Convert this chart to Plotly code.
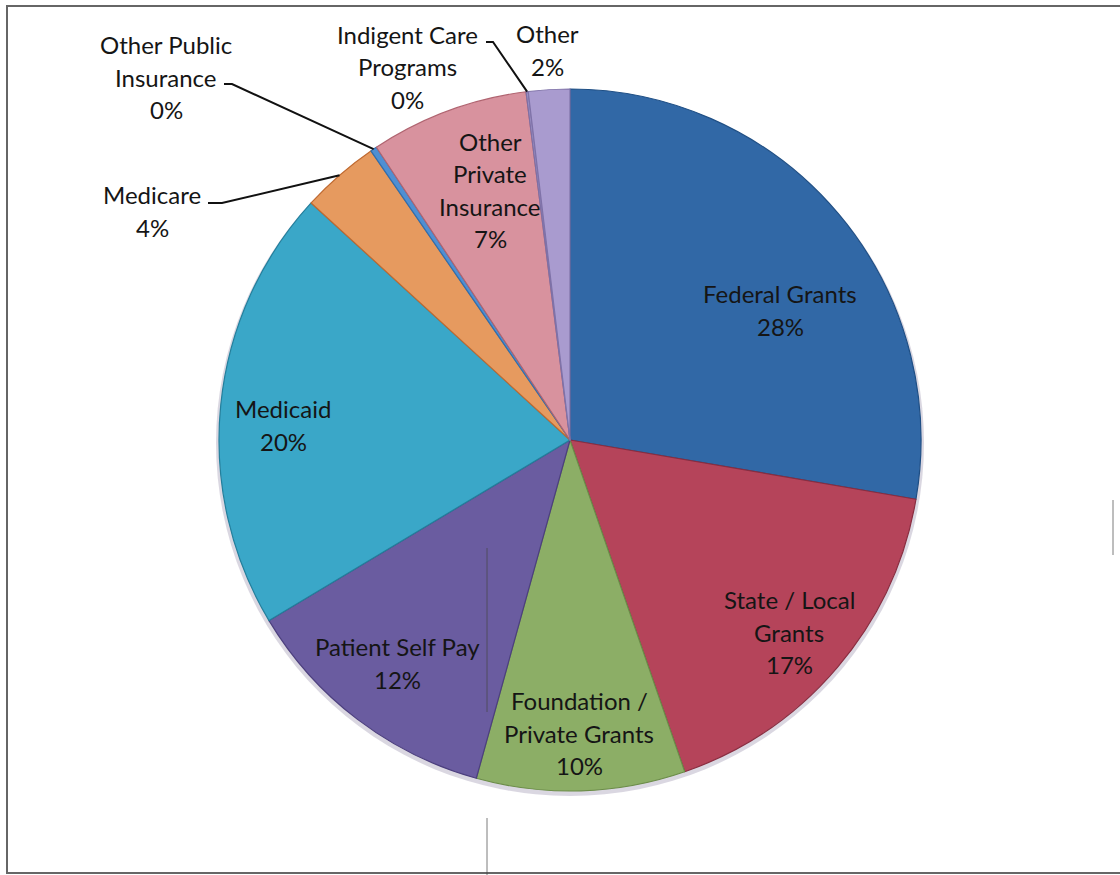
import math
import plotly.graph_objects as go

# Funding sources and their shares of total revenue (%)
categories = [
    "Federal Grants", "State / Local Grants", "Foundation / Private Grants",
    "Patient Self Pay", "Medicaid", "Medicare", "Other Public Insurance",
    "Other Private Insurance", "Indigent Care Programs", "Other",
]
shares = [27.7, 17.0, 9.6, 12.1, 20.4, 3.6, 0.3, 7.3, 0.1, 1.9]

# How each category name is broken over lines in its data label
label_lines = [
    ["Federal Grants"], ["State / Local", "Grants"], ["Foundation /", "Private Grants"],
    ["Patient Self Pay"], ["Medicaid"], ["Medicare"], ["Other Public", "Insurance"],
    ["Other", "Private", "Insurance"], ["Indigent Care", "Programs"], ["Other"],
]

slice_colors = ["#3168a6", "#b5445a", "#8cae66", "#6a5ca0", "#3aa7c8",
                "#e69a5f", "#4f8fd2", "#d8929e", "#9b8fc2", "#a99bcf"]
edge_colors = ["#1f4f85", "#8a2d40", "#6b8c48", "#4c3f7e", "#237f9c",
               "#c06a30", "#2f6fb0", "#b06470", "#7d70a6", "#7f72a8"]

# ---- page geometry (pixels) ----
W, H = 1120, 875
CX, CY, R = 570, 440, 351
ML, MT = CX - R, CY - R
MR, MB = W - ML - 2 * R, H - MT - 2 * R


def px(x):
    return (x - ML) / (2 * R)


def py(y):
    return (MT + 2 * R - y) / (2 * R)


# label block centres in pixels, one per category
label_pos = [(780, 310), (789, 632), (579, 733), (397, 663), (283, 425),
             (152, 211), (166, 77), (490, 190), (407, 67), (547, 50)]
LINE_GAP = 32.5

# leader line start points (label side) for the small outside slices
leaders = {
    "Medicare": [(208, 203), (222, 203)],
    "Other Public Insurance": [(224, 84), (232, 84)],
    "Indigent Care Programs": [(486, 42), (493, 42)],
}

total = sum(shares)
cum = 0.0
mid_frac = []
for v in shares:
    mid_frac.append((cum + v / 2) / total)
    cum += v


def rim_point(frac, radius=R):
    th = 2 * math.pi * frac
    return CX + radius * math.sin(th), CY - radius * math.cos(th)


fig = go.Figure()
fig.add_trace(go.Pie(
    labels=categories,
    values=shares,
    sort=False,
    direction="clockwise",
    rotation=0,
    textinfo="none",
    hoverinfo="label+percent",
    marker=dict(colors=slice_colors, line=dict(color=edge_colors, width=1.2)),
    domain=dict(x=[0, 1], y=[0, 1]),
    showlegend=False,
))

annotations = []
font = dict(family="Lato, 'Open Sans', sans-serif", size=24, color="#151515")
for name, lines, v, (lx, ly) in zip(categories, label_lines, shares, label_pos):
    pct = f"{round(100 * v / total):.0f}%"
    all_lines = lines + [pct]
    n = len(all_lines)
    for i, t in enumerate(all_lines):
        off = (i - (n - 1) / 2) * LINE_GAP
        annotations.append(dict(
            x=px(lx), y=py(ly + off), xref="paper", yref="paper",
            text=t, showarrow=False, font=font,
            xanchor="center", yanchor="middle",
        ))

shapes = []
# soft shadow under the pie
shapes.append(dict(
    type="circle", xref="paper", yref="paper", layer="below",
    x0=px(CX - R - 3), x1=px(CX + R + 3), y0=py(CY + R + 5), y1=py(CY - R + 1),
    fillcolor="rgba(150,140,170,0.35)", line=dict(width=0),
))

for name, f in zip(categories, mid_frac):
    if name in leaders:
        pts = leaders[name] + [rim_point(f)]
        path = "M " + " L ".join(f"{px(x):.5f},{py(y):.5f}" for x, y in pts)
        shapes.append(dict(type="path", xref="paper", yref="paper", path=path,
                           line=dict(color="#111111", width=2)))

# chart frame
shapes.append(dict(type="rect", xref="paper", yref="paper",
                   x0=px(7), x1=px(1130), y0=py(873), y1=py(6),
                   line=dict(color="#666666", width=2), fillcolor="rgba(0,0,0,0)"))

# faint rules crossing the page
for x, y0, y1 in [(487, 548, 712), (487, 818, 875), (1113, 500, 555)]:
    shapes.append(dict(type="line", xref="paper", yref="paper",
                       x0=px(x), x1=px(x), y0=py(y1), y1=py(y0),
                       line=dict(color="rgba(70,70,70,0.7)", width=1)))

fig.update_layout(
    width=W, height=H,
    margin=dict(l=ML, r=MR, t=MT, b=MB, pad=0),
    paper_bgcolor="white", plot_bgcolor="white",
    annotations=annotations, shapes=shapes,
)

fig.write_html("out.html")
